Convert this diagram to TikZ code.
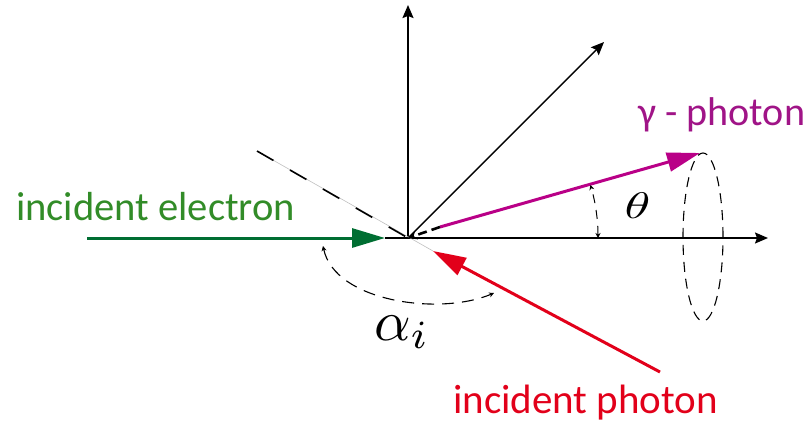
\documentclass[tikz,border=0pt]{standalone}
\usepackage{fontspec}
\setmainfont{Carlito}
\usetikzlibrary{arrows.meta}
\definecolor{egreen}{RGB}{0,110,50}
\definecolor{tgreen}{RGB}{50,140,40}
\definecolor{pred}{RGB}{226,0,26}
\definecolor{gmag}{RGB}{185,0,135}
\definecolor{tmag}{RGB}{160,20,135}
\tikzset{
  axis/.style={draw=black, line width=1.8pt, -{Stealth[length=13pt,width=11pt,inset=2pt]}},
  beam/.style={line width=3pt, -{Triangle[length=33pt,width=19pt]}},
  lbl/.style={anchor=base west, inner sep=0pt},
  anglearc/.style={dashed, line width=1pt, dash pattern=on 9pt off 7pt, {Stealth[length=5pt,width=5pt]}-{Stealth[length=5pt,width=5pt]}},
}
\begin{document}
\begin{tikzpicture}[x=1pt,y=-1pt]
\useasboundingbox (0,0) rectangle (811,426);
\coordinate (O) at (408,238);
\coordinate (Ytip) at (408,5);
\coordinate (Dtip) at (604,42);
\coordinate (Xtip) at (768,238);
\coordinate (Estart) at (87,238);
\coordinate (Etip) at (385,238);
\coordinate (Pstart) at (660,372);
\coordinate (Ptip) at (433,251);
\coordinate (Gstart) at (440,227);
\coordinate (Gtip) at (700,153);
\coordinate (Dash0) at (257,151);
\coordinate (Hseg) at (443,238);
\coordinate (Astart) at (323,246);
\coordinate (Aend) at (494,293);
\coordinate (Ec) at (703,237);
% axes
\draw[axis] (O) -- (Ytip);
\draw[axis, line width=1.4pt] (O) -- (Dtip);
\draw[axis, line width=1.6pt] (Etip) -- (Xtip);
\draw[line width=2.6pt] (Etip) -- (Hseg);
% normal-like dashed line
\draw[black!25, line width=0.6pt] (Dash0) -- (Ptip);
\draw[line width=1.6pt, dash pattern=on 19pt off 19pt] (Dash0) -- (O);
% beams
\draw[beam, egreen] (Estart) -- (Etip);
\draw[beam, pred] (Pstart) -- (Ptip);
\draw[beam, gmag] (Gstart) -- (Gtip);
\draw[line width=2.6pt, dash pattern=on 9pt off 5pt, -{Stealth[length=9pt,width=9pt,inset=3pt]}] (Gstart) -- (O);
% cone ellipse
\draw[line width=1.1pt, dash pattern=on 10pt off 7pt] (Ec) ellipse [x radius=20pt, y radius=84pt];
% theta arc
\draw[anglearc] ([shift={(0:190pt)}]O) arc[start angle=0, end angle=16.2, radius=190pt];
% alpha arc
\draw[line width=1.1pt, dash pattern=on 12pt off 8pt, {Stealth[length=5pt,width=5pt]}-{Stealth[length=5pt,width=5pt]}]
  (Astart) .. controls (335,302) and (440,316) .. (Aend);
% labels
\node[inner sep=0pt] (theta) at (637.5,206) {\scalebox{5.2}[3.7]{$\theta$}};
\node[inner sep=0pt] (alpha) at (402,332) {\scalebox{5.7}{$\alpha_i$}};
\node[lbl, text=tgreen] (elec) at (16,220) {\resizebox{279pt}{!}{\fontsize{34}{40}\selectfont incident electron}};
\node[lbl, text=pred] (phot) at (453,413) {\resizebox{265pt}{!}{\fontsize{34}{40}\selectfont incident photon}};
\node[lbl, text=tmag] (gam) at (638,125) {\resizebox{167pt}{!}{\fontsize{34}{40}\selectfont γ - photon}};
\end{tikzpicture}
\end{document}
